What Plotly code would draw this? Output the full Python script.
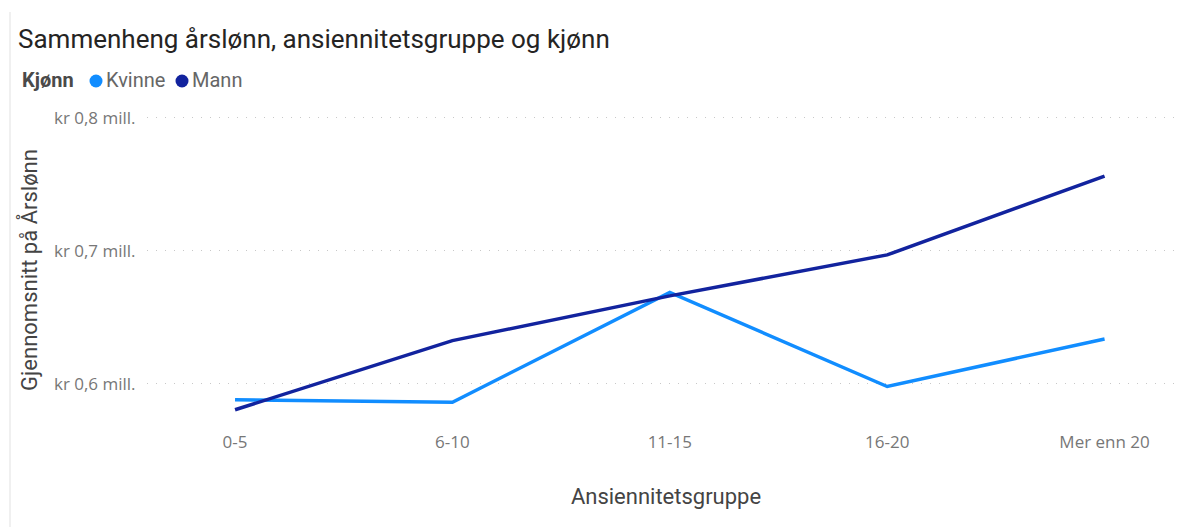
import plotly.graph_objects as go

categories = ["0-5", "6-10", "11-15", "16-20", "Mer enn 20"]
kvinne = [588000, 586200, 668800, 598000, 633800]
mann = [580500, 632500, 666200, 697000, 756300]
y_tick_vals = [600000, 700000, 800000]
y_tick_text = ["kr 0,6 mill.", "kr 0,7 mill.", "kr 0,8 mill."]
series_names = ["Kvinne", "Mann"]
legend_title = "Kjønn"

C_KVINNE = "#118DFF"
C_MANN = "#12239E"
colors = [C_KVINNE, C_MANN]

# The page body has an 8px default margin; size the figure so it fills the window.
OFF = 8
W, H = 1185 - OFF, 527 - OFF
L, R, T, B = 139, 0, 108, 103
PW, PH = W - L - R, H - T - B


def px_x(p):  # screen x -> paper x
    return (p - OFF - L) / PW


def px_y(p):  # screen y -> paper y
    return (H - B - (p - OFF)) / PH


fig = go.Figure()
for name, vals, col in zip(series_names, [kvinne, mann], colors):
    fig.add_trace(go.Scatter(x=categories, y=vals, mode="lines", name=name,
                             line=dict(color=col, width=3.5), showlegend=False,
                             hoverinfo="skip"))

# Legend (Power BI style: bold title, dot + label)
LEG_Y = 80
legend_font = dict(family="Roboto", size=20, color="#666666")
annotations = [dict(text="<b>" + legend_title + "</b>", xref="paper", yref="paper",
                    x=px_x(20), y=px_y(LEG_Y), xanchor="left", yanchor="middle",
                    showarrow=False, font=dict(family="Roboto", size=20, color="#4A4A4A"))]
shapes = []
for name, col, cx in zip(series_names, colors, [96, 182]):
    shapes.append(dict(type="circle", xref="paper", yref="paper",
                       xsizemode="pixel", ysizemode="pixel",
                       xanchor=px_x(cx), yanchor=px_y(LEG_Y + 1),
                       x0=-6.5, x1=6.5, y0=-6.5, y1=6.5,
                       fillcolor=col, line=dict(width=0)))
    annotations.append(dict(text=name, xref="paper", yref="paper",
                            x=px_x(cx + 8), y=px_y(LEG_Y), xanchor="left", yanchor="middle",
                            showarrow=False, font=legend_font))

shapes.append(dict(type="line", xref="paper", yref="paper",
                   x0=px_x(10), x1=px_x(10), y0=px_y(12), y1=px_y(527),
                   line=dict(color="#E1E1E1", width=1)))

fig.update_layout(
    width=W, height=H,
    margin=dict(l=L, r=R, t=T, b=B),
    paper_bgcolor="white", plot_bgcolor="white",
    font=dict(family="Open Sans", color="#666666"),
    title=dict(text="Sammenheng årslønn, ansiennitetsgruppe og kjønn",
               xref="container", yref="container", x=10 / W, xanchor="left",
               y=1 - 31 / H, yanchor="middle",
               font=dict(family="Roboto", size=26, color="#252423")),
    showlegend=False,
    annotations=annotations,
    shapes=shapes,
)

fig.update_xaxes(
    type="category", range=[-0.405, 4.37], automargin=False,
    showgrid=False, zeroline=False, showline=False,
    ticks="outside", ticklen=3, tickcolor="rgba(0,0,0,0)",
    tickfont=dict(family="Open Sans", size=17, color="#777777"),
    title=dict(text="Ansiennitetsgruppe", standoff=36,
               font=dict(family="Roboto", size=22, color="#444444")),
)
fig.update_yaxes(
    range=[569800, 801500], automargin=False,
    tickvals=y_tick_vals, ticktext=y_tick_text,
    showgrid=True, gridcolor="#C8C8C8", gridwidth=1, griddash="1px,8px",
    zeroline=False, showline=False,
    ticks="outside", ticklen=7, tickcolor="rgba(0,0,0,0)",
    tickfont=dict(family="Open Sans", size=17, color="#777777"),
    title=dict(text="Gjennomsnitt på Årslønn", standoff=10,
               font=dict(family="Roboto", size=22, color="#444444")),
)

fig.write_html("out.html", config={"displayModeBar": False})
